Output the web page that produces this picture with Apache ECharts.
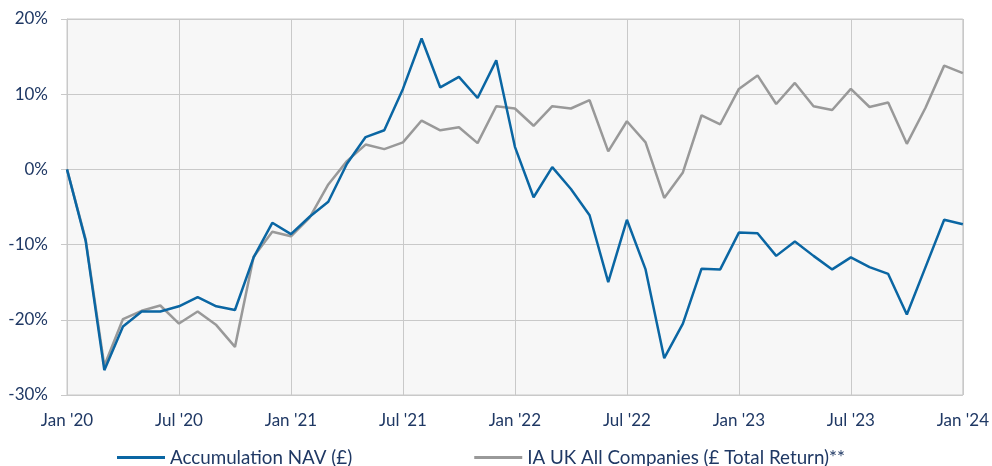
<!DOCTYPE html>
<html><head><meta charset="utf-8">
<script src="https://cdn.jsdelivr.net/npm/echarts@6/dist/echarts.min.js"></script>
<style>html,body{margin:0;padding:0;background:#fff}#c{width:992px;height:466px}</style>
</head><body><div id="c"></div>
<script>
const months = ["Jan","Feb","Mar","Apr","May","Jun","Jul","Aug","Sep","Oct","Nov","Dec"];
const years = ["20","21","22","23","24"];
const categories = [];
years.forEach((y, yi) => months.forEach((m, mi) => { if (yi < 4 || mi === 0) categories.push(m + " '" + y); }));

const seriesNames = ["Accumulation NAV (£)", "IA UK All Companies (£ Total Return)**"];
const navValues = [0, -9.5, -26.7, -20.9, -18.9, -18.9, -18.2, -17.0, -18.2, -18.7, -11.7, -7.1,
  -8.6, -6.3, -4.3, 0.75, 4.3, 5.2, 10.7, 17.4, 10.9, 12.3, 9.5, 14.5,
  3.0, -3.7, 0.3, -2.6, -6.1, -15.0, -6.7, -13.3, -25.1, -20.5, -13.2, -13.3,
  -8.4, -8.5, -11.5, -9.6, -11.5, -13.3, -11.7, -13.0, -13.9, -19.3, -13.0, -6.7,
  -7.3];
const sectorValues = [0, -9.3, -26.1, -19.9, -18.8, -18.1, -20.5, -18.9, -20.7, -23.6, -11.6, -8.3,
  -8.9, -6.4, -2.0, 1.1, 3.3, 2.7, 3.6, 6.5, 5.2, 5.6, 3.5, 8.4,
  8.1, 5.8, 8.4, 8.1, 9.2, 2.4, 6.4, 3.6, -3.8, -0.4, 7.2, 6.0,
  10.7, 12.5, 8.7, 11.5, 8.4, 7.9, 10.7, 8.3, 8.9, 3.4, 8.2, 13.8,
  12.8];
const yTicks = [-30, -20, -10, 0, 10, 20];

const textColor = "#1f3864";
const font = "Lato";
const chart = echarts.init(document.getElementById("c"));
chart.setOption({
  animation: false,
  textStyle: { fontFamily: font },
  grid: { left: 67, right: 26, top: 19, bottom: 71, show: true, backgroundColor: "#f7f7f7", borderColor: "#c9c9c9", borderWidth: 1 },
  legend: {
    top: 443, left: 112, itemGap: 122, itemWidth: 48, itemHeight: 3,
    textStyle: { color: textColor, fontSize: 18.8, fontFamily: font },
    data: seriesNames.map(n => ({ name: n, icon: "rect" }))
  },
  xAxis: {
    type: "category", data: categories, boundaryGap: false,
    axisLine: { show: true, lineStyle: { color: "#c9c9c9" } },
    axisTick: { show: false },
    axisLabel: { interval: 5, color: textColor, fontSize: 17, margin: 17, fontFamily: font },
    splitLine: { show: true, interval: 5, lineStyle: { color: "#c9c9c9", width: 1 } }
  },
  yAxis: {
    type: "value", min: yTicks[0], max: yTicks[yTicks.length - 1], interval: 10,
    axisLine: { show: true, lineStyle: { color: "#c9c9c9" } },
    axisTick: { show: true, length: 6, lineStyle: { color: "#c9c9c9" } },
    axisLabel: { color: textColor, fontSize: 17, margin: 19, fontFamily: font, formatter: v => v + "%" },
    splitLine: { show: true, lineStyle: { color: "#c9c9c9", width: 1 } }
  },
  series: [
    { name: seriesNames[0], type: "line", data: navValues, symbol: "none", lineStyle: { color: "#0a66a3", width: 2.5 }, itemStyle: { color: "#0a66a3" }, z: 3 },
    { name: seriesNames[1], type: "line", data: sectorValues, symbol: "none", lineStyle: { color: "#999999", width: 2.5 }, itemStyle: { color: "#999999" }, z: 2 }
  ]
});
</script></body></html>
